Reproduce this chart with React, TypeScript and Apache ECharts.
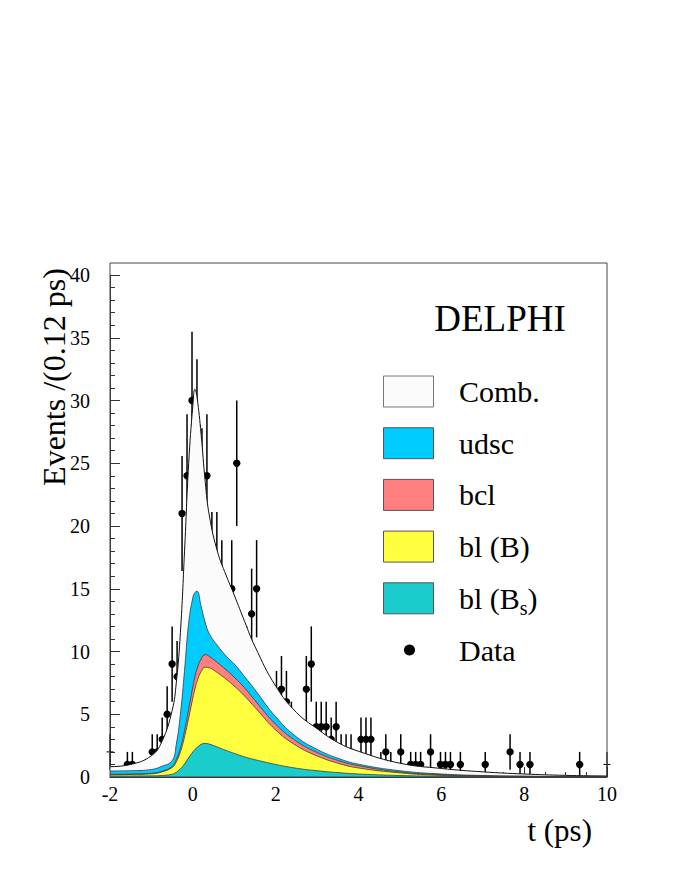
import React, { useEffect, useRef } from 'react';
import * as echarts from 'echarts';

// Curve sampling positions (t in ps) and cumulative stacked tops
const curveT = [-2, -1.5, -1, -0.75, -0.5, -0.4, -0.3, -0.2, -0.1, 0, 0.05, 0.1, 0.2, 0.3, 0.4, 0.6, 0.8, 1, 1.25, 1.5, 2, 2.5, 3, 3.5, 4, 5, 6, 7, 8, 9, 10];
const bsTop = [0.08, 0.08, 0.09, 0.12, 0.22, 0.38, 0.65, 1.05, 1.55, 2.0, 2.2, 2.35, 2.6, 2.68, 2.62, 2.38, 2.12, 1.88, 1.6, 1.38, 1.0, 0.7, 0.5, 0.35, 0.24, 0.12, 0.06, 0.03, 0.02, 0.01, 0.01];
const bTop = [0.18, 0.2, 0.25, 0.4, 0.75, 1.2, 2.0, 3.2, 4.7, 6.3, 7.0, 7.6, 8.4, 8.75, 8.7, 8.3, 7.8, 7.25, 6.45, 5.55, 3.75, 2.5, 1.68, 1.1, 0.72, 0.33, 0.13, 0.06, 0.03, 0.02, 0.01];
const bclTop = [0.22, 0.24, 0.3, 0.45, 0.85, 1.4, 2.3, 3.7, 5.4, 7.2, 8.0, 8.6, 9.4, 9.75, 9.6, 9.1, 8.55, 7.95, 7.1, 6.1, 4.2, 2.85, 1.95, 1.32, 0.9, 0.4, 0.18, 0.09, 0.05, 0.03, 0.02];
const udscTop = [0.48, 0.5, 0.6, 0.85, 1.3, 2.6, 5.0, 8.5, 12.3, 14.3, 14.7, 14.8, 13.6, 12.3, 11.4, 10.45, 9.65, 9.0, 8.0, 6.95, 4.8, 3.2, 2.2, 1.5, 1.02, 0.5, 0.24, 0.12, 0.07, 0.04, 0.03];
const totalFit = [0.82, 1.0, 1.7, 2.8, 5.3, 7.5, 11.5, 18.0, 25.0, 29.6, 30.9, 30.3, 27.3, 23.5, 20.8, 17.9, 16.1, 14.5, 12.4, 10.4, 7.25, 5.15, 3.85, 2.75, 2.05, 1.1, 0.68, 0.41, 0.24, 0.13, 0.08];

// Data points: bin centres (0.12 ps bins) and event counts
const dataT = [-1.58, -1.46, -0.98, -0.86, -0.74, -0.62, -0.50, -0.38, -0.26, -0.14, -0.02, 0.10, 0.22, 0.34, 0.46, 0.58, 0.70, 0.82, 0.94, 1.06, 1.18, 1.30, 1.42, 1.54, 1.66, 1.78, 1.90, 2.02, 2.14, 2.26, 2.38, 2.50, 2.62, 2.74, 2.86, 2.98, 3.10, 3.22, 3.34, 3.46, 3.58, 3.70, 3.82, 3.94, 4.06, 4.18, 4.30, 4.54, 4.66, 4.78, 5.02, 5.26, 5.38, 5.50, 5.74, 5.98, 6.10, 6.22, 6.46, 7.06, 7.66, 7.90, 8.14, 9.34];
const dataN = [1, 1, 2, 2, 3, 5, 9, 8, 21, 24, 30, 28, 23, 24, 17, 17, 15, 12, 15, 25, 5, 9, 13, 15, 5, 5, 5, 6, 7, 6, 4, 3, 1, 7, 9, 4, 4, 4, 3, 4, 2, 2, 2, 1, 3, 3, 3, 1, 2, 1, 2, 1, 1, 1, 2, 1, 1, 1, 1, 1, 2, 1, 1, 1];
// Entries drawn at the frame edges (no marker)
const edgeT = [-2, 10];
const edgeN = [2, 1];

const legendLabels = ['Comb.', 'udsc', 'bcl', 'bl (B)', '{n|bl (B}{s|s}{n|)}', 'Data'];
const legendColors = ['#fbfbfb', '#00ccff', '#ff7f7f', '#ffff40', '#1acccc'];

const FONT = 'Liberation Serif, serif';

export default function App() {
  const ref = useRef<HTMLDivElement>(null);
  useEffect(() => {
    const chart = echarts.init(ref.current!, null, { renderer: 'svg' });
    const pairs = (ys: number[]) => curveT.map((t, i) => [t, ys[i]]);
    const area = (name: string, ys: number[], color: string, line: boolean) => ({
      type: 'line',
      name,
      data: pairs(ys),
      smooth: 0.45,
      symbol: 'none',
      showSymbol: false,
      silent: true,
      lineStyle: line ? { color: '#3a3a3a', width: 0.8 } : { width: 0, opacity: 0 },
      areaStyle: { color, opacity: 1 },
    });

    const legendTop = 391.5;
    const legendStep = 51.7;
    const legendGraphics: any[] = [];
    legendColors.forEach((c, i) => {
      const cy = legendTop + i * legendStep;
      legendGraphics.push({
        type: 'rect',
        shape: { x: 383.5, y: cy - 15.5, width: 50, height: 31 },
        style: { fill: c, stroke: i === 0 ? '#777' : '#555', lineWidth: 1 },
        z: 100,
      });
    });
    legendLabels.forEach((lab, i) => {
      const cy = legendTop + i * legendStep;
      legendGraphics.push({
        type: 'text',
        x: 459,
        y: cy,
        z: 100,
        style: {
          text: lab,
          fontFamily: FONT,
          fontSize: 30,
          fill: '#000',
          align: 'left',
          verticalAlign: 'middle',
          rich: {
            n: { fontFamily: FONT, fontSize: 30, lineHeight: 40, verticalAlign: 'middle', fill: '#000' },
            s: { fontFamily: FONT, fontSize: 20, lineHeight: 22, verticalAlign: 'bottom', fill: '#000' },
          },
        },
      });
    });
    legendGraphics.push({
      type: 'circle',
      shape: { cx: 409.5, cy: legendTop + 5 * legendStep, r: 5.5 },
      style: { fill: '#000' },
      z: 100,
    });

    const textStyle = (text: string, size: number, align: string) => ({
      text,
      fontFamily: FONT,
      fontSize: size,
      fill: '#000',
      align,
      verticalAlign: 'middle',
    });

    const option: any = {
      animation: false,
      backgroundColor: '#fff',
      textStyle: { fontFamily: FONT },
      grid: { left: 110, right: 67, top: 275, bottom: 95, containLabel: false },
      xAxis: {
        type: 'value',
        min: -2,
        max: 10,
        interval: 2,
        axisLine: { show: true, onZero: false, lineStyle: { color: '#333', width: 1 } },
        axisTick: { show: true, inside: true, length: 10, lineStyle: { color: '#333' } },
        minorTick: { show: true, splitNumber: 4, length: 5, lineStyle: { color: '#333' } },
        splitLine: { show: false },
        axisLabel: { fontFamily: FONT, fontSize: 20, color: '#000', margin: 7 },
      },
      yAxis: {
        type: 'value',
        min: 0,
        max: 40,
        interval: 5,
        axisLine: { show: true, onZero: false, lineStyle: { color: '#333', width: 1 } },
        axisTick: { show: true, inside: true, length: 10, lineStyle: { color: '#333' } },
        minorTick: { show: true, splitNumber: 5, length: 5, lineStyle: { color: '#333' } },
        splitLine: { show: false },
        axisLabel: { fontFamily: FONT, fontSize: 20, color: '#000', margin: 20 },
      },
      graphic: [
        {
          type: 'rect',
          shape: { x: 110, y: 263, width: 497, height: 514 },
          style: { fill: 'none', stroke: '#444', lineWidth: 1 },
          z: 100,
          silent: true,
        },
        { type: 'text', x: 500, y: 318, z: 100, style: textStyle('DELPHI', 37, 'center') },
        { type: 'text', x: 592, y: 830, z: 100, style: textStyle('t (ps)', 31, 'right') },
        {
          type: 'text',
          x: 54,
          y: 377,
          rotation: Math.PI / 2,
          z: 100,
          style: textStyle('Events /(0.12 ps)', 32, 'center'),
        },
        ...legendGraphics,
      ],
      series: [
        area('Comb.', totalFit, '#fbfbfb', false),
        area('udsc', udscTop, '#00ccff', true),
        area('bcl', bclTop, '#ff7f7f', true),
        area('bl (B)', bTop, '#ffff40', true),
        area('bl (Bs)', bsTop, '#1acccc', true),
        {
          type: 'line',
          name: 'Fit',
          data: pairs(totalFit),
          smooth: 0.45,
          symbol: 'none',
          showSymbol: false,
          silent: true,
          lineStyle: { color: '#111', width: 1 },
        },
        {
          type: 'custom',
          name: 'Data',
          clip: true,
          silent: true,
          data: dataT.map((t, i) => [t, dataN[i]]),
          encode: { x: 0, y: 1 },
          renderItem: (params: any, api: any) => {
            const x = api.value(0);
            const y = api.value(1);
            const e = Math.sqrt(y);
            const p = api.coord([x, y]);
            const lo = api.coord([x, Math.max(0, y - e)]);
            const hi = api.coord([x, y + e]);
            return {
              type: 'group',
              children: [
                { type: 'line', shape: { x1: p[0], y1: lo[1], x2: p[0], y2: hi[1] }, style: { stroke: '#000', lineWidth: 1.5 } },
                { type: 'circle', shape: { cx: p[0], cy: p[1], r: 3.7 }, style: { fill: '#000' } },
              ],
            };
          },
        },
        {
          type: 'custom',
          name: 'Edge',
          clip: false,
          silent: true,
          data: edgeT.map((t, i) => [t, edgeN[i]]),
          encode: { x: 0, y: 1 },
          renderItem: (params: any, api: any) => {
            const x = api.value(0);
            const y = api.value(1);
            const e = Math.sqrt(y);
            const p = api.coord([x, y]);
            const lo = api.coord([x, Math.max(0, y - e)]);
            const hi = api.coord([x, y + e]);
            return {
              type: 'group',
              children: [
                { type: 'line', shape: { x1: p[0], y1: lo[1], x2: p[0], y2: hi[1] }, style: { stroke: '#000', lineWidth: 1.2 } },
                { type: 'line', shape: { x1: p[0] - 3.5, y1: p[1], x2: p[0] + 3.5, y2: p[1] }, style: { stroke: '#000', lineWidth: 1 } },
              ],
            };
          },
        },
      ],
    };
    chart.setOption(option);
    return () => chart.dispose();
  }, []);
  return (
    <div
      ref={ref}
      style={{ position: 'fixed', left: 0, top: 0, width: 674, height: 872, background: '#fff' }}
    />
  );
}
